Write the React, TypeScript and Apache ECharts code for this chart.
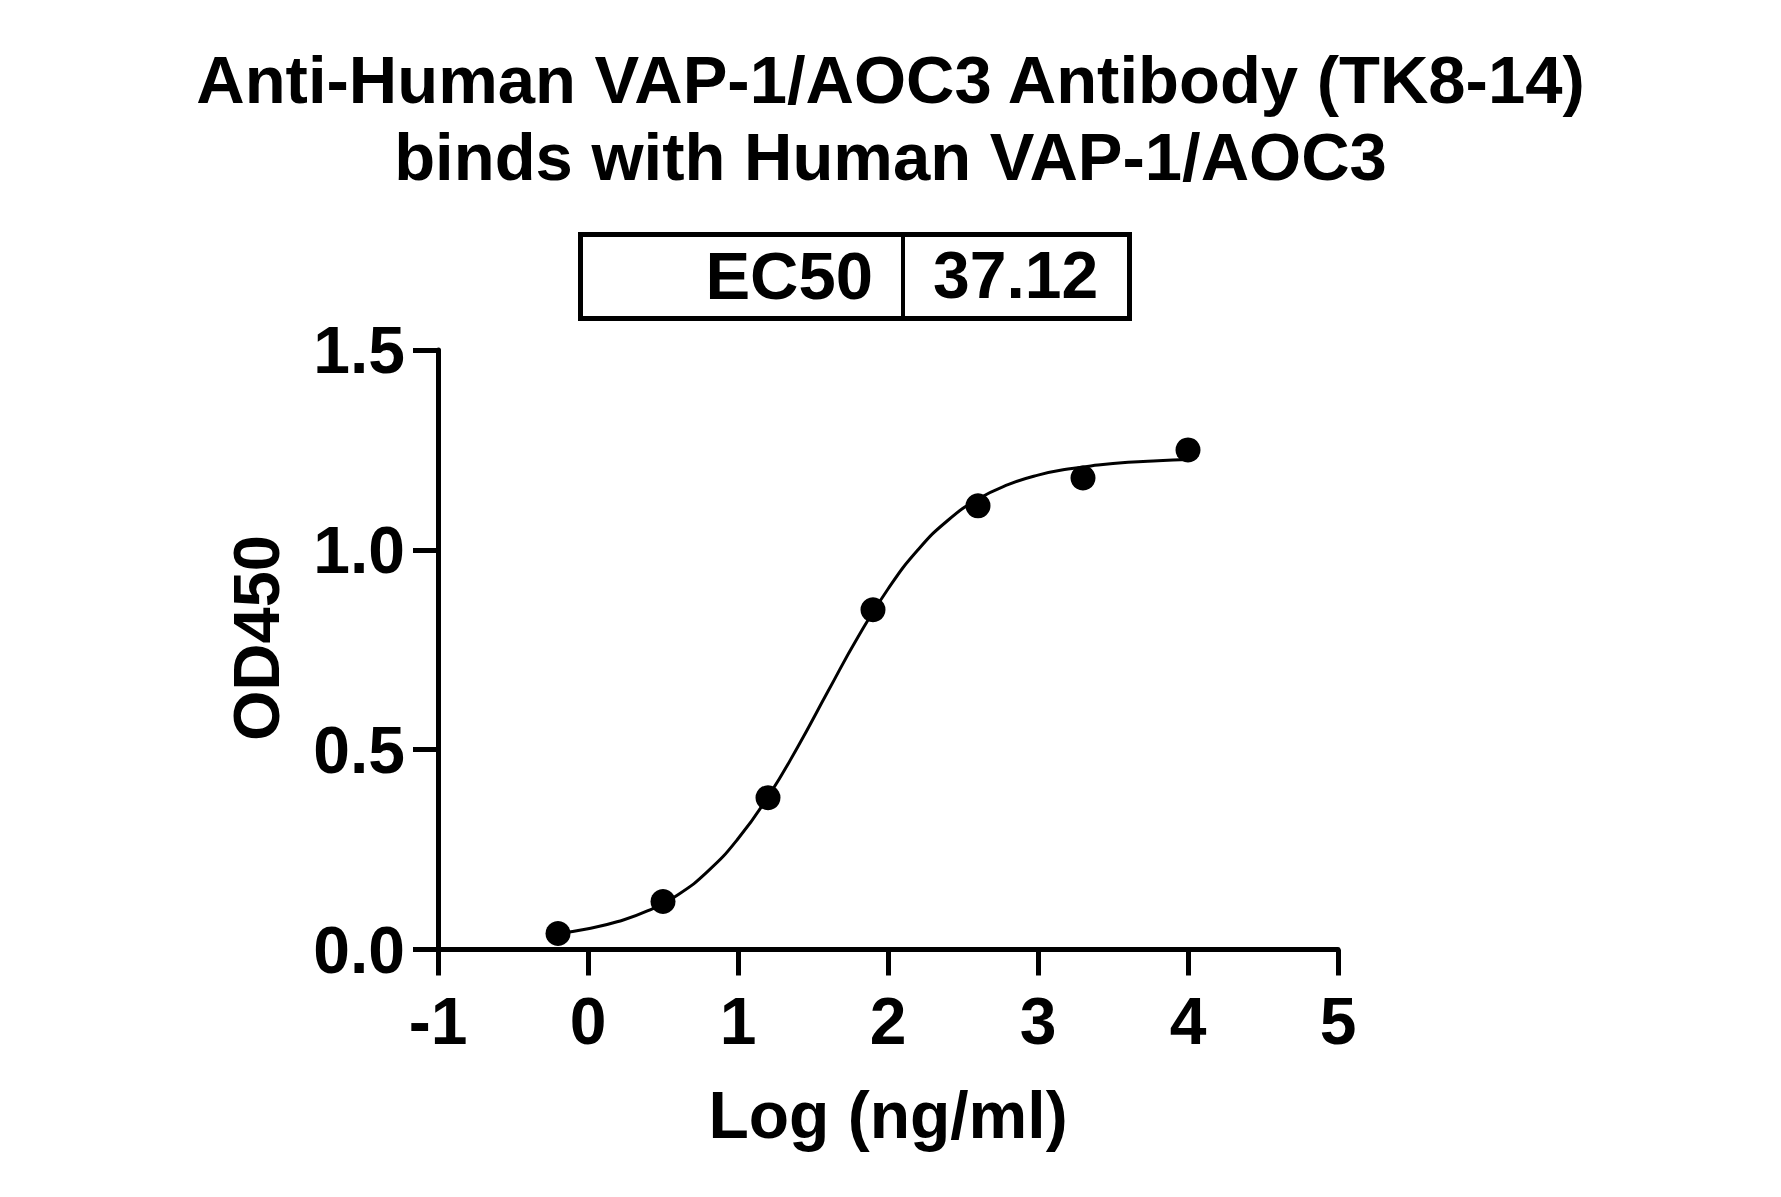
import React, { useEffect, useRef } from "react";
import * as echarts from "echarts";

// Measured data points (log concentration, OD450)
const logConc = [-0.2, 0.5, 1.2, 1.9, 2.6, 3.3, 4.0];
const od450 = [0.04, 0.12, 0.38, 0.85, 1.11, 1.18, 1.25];

// Fitted curve
const fitX = [-0.2, 0.0, 0.2, 0.4, 0.6, 0.8, 1.0, 1.2, 1.4, 1.6, 1.8, 2.0, 2.2, 2.4, 2.6, 2.8, 3.0, 3.2, 3.4, 3.6, 3.8, 4.0];
const fitY = [0.040, 0.052, 0.070, 0.097, 0.137, 0.196, 0.277, 0.382, 0.508, 0.646, 0.782, 0.902, 1.000, 1.074, 1.127, 1.163, 1.187, 1.202, 1.212, 1.219, 1.223, 1.226];

const titleText = "Anti-Human VAP-1/AOC3 Antibody (TK8-14)\nbinds with Human VAP-1/AOC3";
const ec50Label = "EC50";
const ec50Value = "37.12";
const xAxisName = "Log (ng/ml)";
const yAxisName = "OD450";

const FONT = "'Liberation Sans', Arial, Helvetica, sans-serif";

export default function App() {
  const ref = useRef<HTMLDivElement>(null);

  useEffect(() => {
    if (!ref.current) return;
    const chart = echarts.init(ref.current, undefined, { renderer: "svg" });
    const scatterData = logConc.map((x, i) => [x, od450[i]]);
    const fitData = fitX.map((x, i) => [x, fitY[i]]);

    chart.setOption({
      animation: false,
      backgroundColor: "#ffffff",
      title: {
        text: titleText,
        left: "center",
        top: 36,
        textStyle: {
          fontFamily: FONT,
          fontSize: 67,
          fontWeight: "bold",
          color: "#000",
          lineHeight: 77,
        },
      },
      grid: {
        left: 438,
        right: 443,
        top: 350,
        bottom: 247.5,
        containLabel: false,
      },
      xAxis: {
        type: "value",
        min: -1,
        max: 5,
        interval: 1,
        name: xAxisName,
        nameLocation: "middle",
        nameGap: 132,
        nameTextStyle: {
          fontFamily: FONT,
          fontSize: 66,
          fontWeight: "bold",
          color: "#000",
        },
        axisLine: { show: true, onZero: false, lineStyle: { color: "#000", width: 5 } },
        axisTick: { show: true, length: 26, lineStyle: { color: "#000", width: 5 } },
        axisLabel: {
          margin: 38,
          fontFamily: FONT,
          fontSize: 66,
          fontWeight: "bold",
          color: "#000",
        },
        splitLine: { show: false },
      },
      yAxis: {
        type: "value",
        min: 0,
        max: 1.5,
        interval: 0.5,
        axisLine: { show: true, onZero: false, lineStyle: { color: "#000", width: 5 } },
        axisTick: { show: true, length: 25, lineStyle: { color: "#000", width: 5 } },
        axisLabel: {
          margin: 33,
          fontFamily: FONT,
          fontSize: 66,
          fontWeight: "bold",
          color: "#000",
          formatter: (v: number) => v.toFixed(1),
        },
        splitLine: { show: false },
      },
      graphic: [
        {
          type: "text",
          x: 256,
          y: 638,
          rotation: Math.PI / 2,
          style: {
            text: yAxisName,
            fontFamily: FONT,
            fontSize: 65,
            fontWeight: "bold",
            fill: "#000",
            align: "center",
            verticalAlign: "middle",
          },
        },
        {
          type: "rect",
          shape: { x: 580.5, y: 234.5, width: 549, height: 84 },
          style: { fill: "none", stroke: "#000", lineWidth: 5 },
        },
        {
          type: "line",
          shape: { x1: 903, y1: 234, x2: 903, y2: 319 },
          style: { stroke: "#000", lineWidth: 4 },
        },
        {
          type: "text",
          x: 873,
          y: 275,
          style: {
            text: ec50Label,
            fontFamily: FONT,
            fontSize: 67,
            fontWeight: "bold",
            fill: "#000",
            align: "right",
            verticalAlign: "middle",
          },
        },
        {
          type: "text",
          x: 933,
          y: 275,
          style: {
            text: ec50Value,
            fontFamily: FONT,
            fontSize: 66,
            fontWeight: "bold",
            fill: "#000",
            align: "left",
            verticalAlign: "middle",
          },
        },
      ],
      series: [
        {
          type: "line",
          data: fitData,
          showSymbol: false,
          smooth: 0.5,
          lineStyle: { color: "#000", width: 3 },
          z: 2,
          silent: true,
        },
        {
          type: "scatter",
          data: scatterData,
          symbol: "circle",
          symbolSize: 25,
          itemStyle: { color: "#000", opacity: 1 },
          z: 3,
        },
      ],
    });

    return () => {
      chart.dispose();
    };
  }, []);

  return (
    <div
      ref={ref}
      style={{ position: "absolute", left: 0, top: 0, width: 1781, height: 1197 }}
    />
  );
}
